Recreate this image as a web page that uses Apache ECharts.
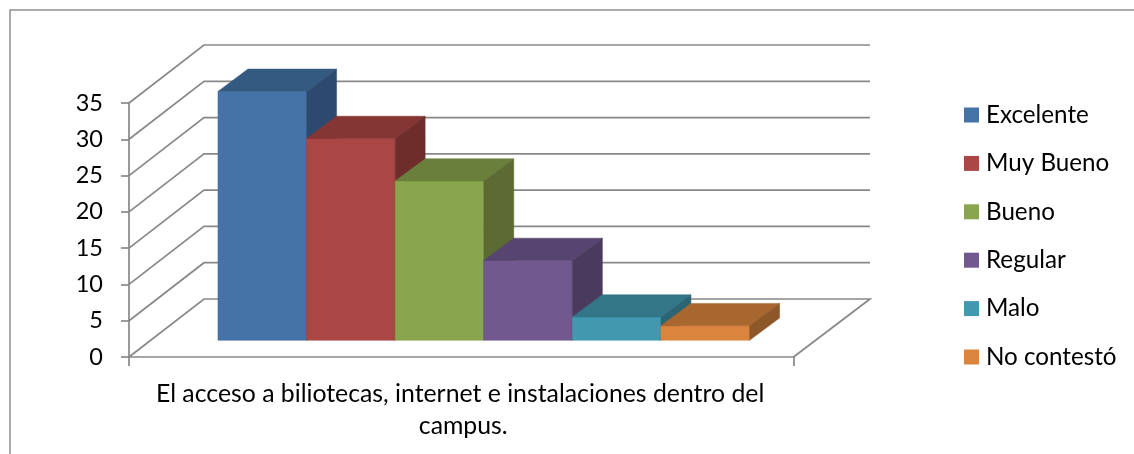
<!DOCTYPE html>
<html><head><meta charset="utf-8">
<style>html,body{margin:0;padding:0;background:#fff}#c{width:1134px;height:454px}</style>
<script src="https://cdn.jsdelivr.net/npm/echarts@6/dist/echarts.min.js"></script>
</head><body><div id="c"></div>
<script>
const categories = ['El acceso a biliotecas, internet e instalaciones dentro del campus.'];
const seriesNames = ['Excelente','Muy Bueno','Bueno','Regular','Malo','No contestó'];
const seriesValues = [34.3,27.8,21.95,11,3.2,2];
const yTicks = [0,5,10,15,20,25,30,35];
const frontColors = ['#4572A7','#AA4643','#89A54E','#71588F','#4198AF','#DB843D'];
const topColors = ['#355A82','#843635','#6A7F3B','#574470','#327688','#A8672F'];
const sideColors = ['#2C4A70','#6E2C2A','#5B6B33','#4A3A5E','#2B6474','#8D5727'];

const FONT = 'Lato';
const GRAY = '#888888';
const LINE = 1.7;
const WALL_DX = 75, WALL_RIGHT_DX = 76.5, WALL_DY = -58;
const BAR_SHIFT_X = 22.5, BAR_SHIFT_Y = -16.7, BAR_DX = 30, BAR_DY = -22.3;
const GAP_BANDS = 7.5;

function wallItem(params, api) {
  const p = api.coord([0, api.value(1)]);
  const cs = params.coordSys;
  const left = cs.x, right = cs.x + cs.width;
  const isFloor = api.value(1) === 0;
  const pts = [[left, p[1]], [left + WALL_DX, p[1] + WALL_DY], [right + WALL_RIGHT_DX, p[1] + WALL_DY]];
  if (isFloor) pts.push([right, p[1]]);
  return {type:'polyline', shape:{points:pts}, style:{fill:null, stroke:GRAY, lineWidth:LINE}, silent:true};
}
function barItem(params, api) {
  const i = seriesNames.indexOf(params.seriesName);
  const band = api.size([1,0])[0];
  const w = band / GAP_BANDS;
  const top = api.coord([api.value(0), api.value(1)]);
  const base = api.coord([api.value(0), 0]);
  const x0 = top[0] + BAR_SHIFT_X + (i - seriesNames.length/2) * w, x1 = x0 + w;
  const yt = top[1] + BAR_SHIFT_Y, yb = base[1] + BAR_SHIFT_Y;
  const poly = (pts, fill) => ({type:'polygon', shape:{points:pts}, style:{fill, stroke:fill, lineWidth:0.5}});
  return {type:'group', silent:true, children:[
    poly([[x0,yt],[x1,yt],[x1,yb],[x0,yb]], frontColors[i]),
    poly([[x0,yt],[x1,yt],[x1+BAR_DX,yt+BAR_DY],[x0+BAR_DX,yt+BAR_DY]], topColors[i]),
    poly([[x1,yt],[x1+BAR_DX,yt+BAR_DY],[x1+BAR_DX,yb+BAR_DY],[x1,yb]], sideColors[i])
  ]};
}

const series = [{
  type:'custom', name:'wall', renderItem:wallItem, silent:true, z:1,
  data: yTicks.map(t => [0, t]), encode:{x:0, y:1}
}].concat(seriesNames.map((n, i) => ({
  type:'custom', name:n, renderItem:barItem, z:2, silent:true,
  itemStyle:{color:frontColors[i]},
  data:[[0, seriesValues[i]]], encode:{x:0, y:1}
})));

const chart = echarts.init(document.getElementById('c'), null, {renderer:'canvas'});
chart.setOption({
  animation:false,
  backgroundColor:'#fff',
  textStyle:{fontFamily:FONT},
  grid:{left:129, top:103, width:664.5, height:254, containLabel:false},
  xAxis:{type:'category', data:categories,
    axisLine:{show:true, lineStyle:{color:GRAY, width:LINE}},
    axisTick:{show:true, length:9, alignWithLabel:false, lineStyle:{color:GRAY, width:LINE}},
    splitLine:{show:false},
    axisLabel:{color:'#000', fontFamily:FONT, fontSize:24.8, lineHeight:32, margin:21, width:640, overflow:'break', interval:0, padding:[0,0,0,4]}},
  yAxis:{type:'value', min:0, max:35, interval:5,
    axisLine:{show:true, lineStyle:{color:GRAY, width:LINE}},
    axisTick:{show:true, length:8, lineStyle:{color:GRAY, width:LINE}},
    splitLine:{show:false},
    axisLabel:{color:'#000', fontFamily:FONT, fontSize:23.5, margin:26, padding:[6,0,0,0]}},
  legend:{orient:'vertical', left:964, top:103, padding:0, icon:'rect', itemWidth:15, itemHeight:15, itemGap:24.4,
    data:seriesNames, selectedMode:false,
    textStyle:{color:'#000', fontFamily:FONT, fontSize:24.2, padding:[0,0,0,2]}},
  graphic:[{type:'polyline', shape:{points:[[10,454],[10,10],[1134,10]]}, style:{fill:null, stroke:'#909090', lineWidth:1.5}, silent:true}],
  series
});
</script></body></html>
